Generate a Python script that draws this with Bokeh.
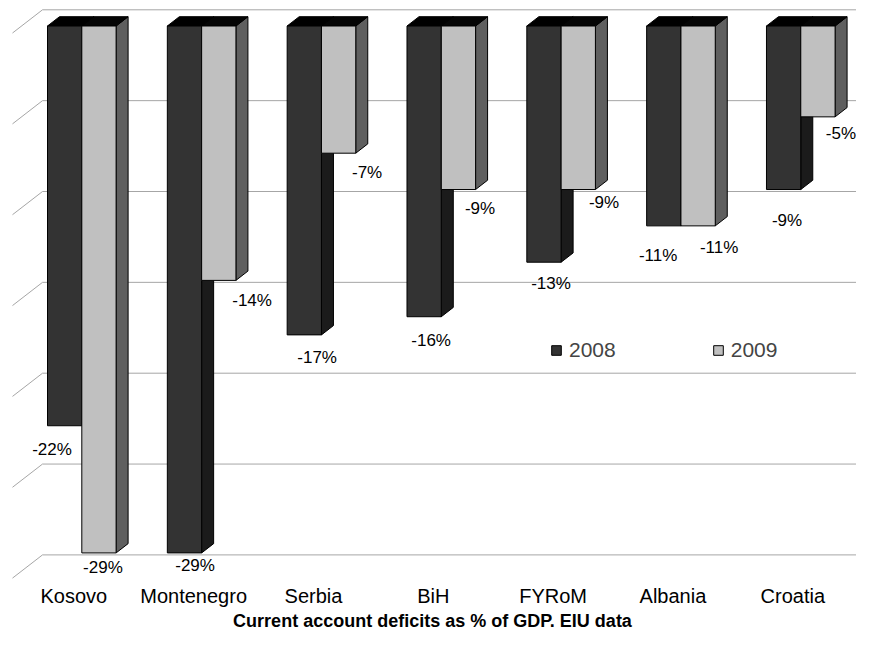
from bokeh.plotting import figure
from bokeh.models import Legend, LegendItem, Label
from bokeh.core.properties import value
from bokeh.embed import file_html
from bokeh.resources import INLINE

# ---------------- data ----------------
countries = ["Kosovo", "Montenegro", "Serbia", "BiH", "FYRoM", "Albania", "Croatia"]
deficit_2008 = [-22, -29, -17, -16, -13, -11, -9]
deficit_2009 = [-29, -14, -7, -9, -9, -11, -5]
series_names = ["2008", "2009"]
grid_values = [0, -5, -10, -15, -20, -25, -30]
title_text = "Current account deficits as % of GDP. EIU data"

# ---------------- layout / style ----------------
FONT = "Liberation Sans"
W, H = 856, 630
PX_PER_CAT = 119.83      # pixels per category step
PX_PER_PCT = 18.17       # pixels per percentage point


def cx(px):
    return px / PX_PER_CAT


def cy(px):
    return px / PX_PER_PCT


x_start = -cx(81.3)
x_end = x_start + cx(W)
y_end = cy(25.5)
y_start = y_end - cy(H)

BAR_W = cx(34.3)
DEPTH_X, DEPTH_Y = cx(12), cy(9.3)          # bar depth (oblique)
BACK_DX, BACK_DY = cx(20.9), cy(16.2)       # bar front plane -> back wall
WALL_DX, WALL_DY = cx(30), cy(23.2)         # side wall depth
WALL_FRONT_X = -cx(81.3 - 12)

front_colors = ["#333333", "#c0c0c0"]
side_colors = ["#1b1b1b", "#5f5f5f"]
top_colors = ["#000000", "#050505"]

# per-label pixel nudges (dx, dy-down) relative to bar bottom centre
nudges = [
    [(-12.6, 24), (10.6, 12.6), (12.8, 22.9), (7, 23.8), (7, 21.6), (-5.7, 29.6), (3.4, 31)],
    [(4, 14.3), (33.3, 20), (28.5, 19), (21.6, 19.3), (25.8, 12.7), (21, 21.9), (23, 17)],
]

p = figure(width=W, height=H, x_range=(x_start, x_end), y_range=(y_start, y_end),
           output_backend="svg", toolbar_location=None,
           x_axis_location=None, y_axis_location=None, min_border=0)
p.grid.visible = False
p.outline_line_color = None
p.background_fill_color = "white"

# ---------------- walls / gridlines ----------------
back_x0 = WALL_FRONT_X + WALL_DX
gy_back = [g + BACK_DY for g in grid_values]
p.segment(x0=[back_x0] * len(grid_values), y0=gy_back,
          x1=[x_end + 1] * len(grid_values), y1=gy_back,
          line_color="#a6a6a6", line_width=1)
p.segment(x0=[WALL_FRONT_X] * len(grid_values), y0=[y - WALL_DY for y in gy_back],
          x1=[back_x0] * len(grid_values), y1=gy_back,
          line_color="#a6a6a6", line_width=1)

# ---------------- bars ----------------
idx = list(range(len(countries)))
front_renderers = []
for s, vals in enumerate([deficit_2008, deficit_2009]):
    lefts = [i - BAR_W + s * BAR_W for i in idx]
    rights = [l + BAR_W for l in lefts]
    side_xs = [[r, r + DEPTH_X, r + DEPTH_X, r] for r in rights]
    side_ys = [[0, DEPTH_Y, v + DEPTH_Y, v] for v in vals]
    p.patches(side_xs, side_ys, fill_color=side_colors[s], line_color="black", line_width=1)
    top_xs = [[l, r, r + DEPTH_X, l + DEPTH_X] for l, r in zip(lefts, rights)]
    top_ys = [[0, 0, DEPTH_Y, DEPTH_Y] for _ in vals]
    p.patches(top_xs, top_ys, fill_color=top_colors[s], line_color="black", line_width=1)
    q = p.quad(left=lefts, right=rights, top=[0] * len(vals), bottom=vals,
               fill_color=front_colors[s], line_color="black", line_width=1)
    front_renderers.append(q)

    # data labels
    lx = [(l + r) / 2 + cx(n[0]) for l, r, n in zip(lefts, rights, nudges[s])]
    ly = [v - cy(n[1]) for v, n in zip(vals, nudges[s])]
    p.text(x=lx, y=ly, text=[f"{v}%" for v in vals], text_font=value(FONT),
           text_font_size="17px", text_color="black",
           text_align="center", text_baseline="middle")

# ---------------- category labels ----------------
cat_y = -cy(595 - 25.5)
p.text(x=[i - cx(8) for i in idx], y=[cat_y] * len(idx), text=countries,
       text_font=value(FONT), text_font_size="20px", text_color="black",
       text_align="center", text_baseline="middle")

# ---------------- legend ----------------
legend = Legend(items=[LegendItem(label=series_names[k], renderers=[front_renderers[k]])
                       for k in range(2)],
                orientation="horizontal", location=(550, 268),
                glyph_width=12, glyph_height=12, label_standoff=7, spacing=96,
                label_text_font=FONT, label_text_font_size="21px",
                padding=0, margin=0, border_line_color=None,
                background_fill_alpha=0)
p.add_layout(legend)

# ---------------- title (below) ----------------
p.add_layout(Label(x=432, y=H - 620, x_units="screen", y_units="screen",
                   text=title_text, text_font=FONT, text_font_size="18px",
                   text_font_style="bold", text_align="center", text_baseline="middle",
                   text_color="black"))

open("out.html", "w").write(file_html(p, INLINE))
